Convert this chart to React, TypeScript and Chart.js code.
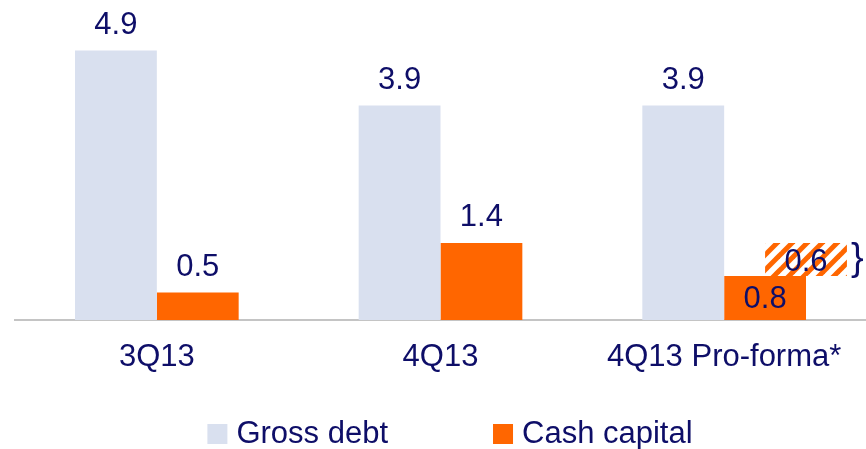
import React, { useEffect, useRef } from "react";
import { Chart, registerables } from "chart.js";

Chart.register(...registerables);

const categories = ["3Q13", "4Q13", "4Q13 Pro-forma*"];
const seriesNames = ["Gross debt", "Cash capital"];
const grossDebt = [4.9, 3.9, 3.9];
const cashCapital = [0.5, 1.4, 0.8];
const proFormaAddition: (number | null)[] = [null, null, 0.6];

const NAVY = "#0E0E68";
const GRAY_BAR = "#D9E0EF";
const ORANGE = "#FF6600";
const AXIS_GRAY = "#C4C4C4";
const FONT = "'Liberation Sans', Arial, sans-serif";
const FONT_SIZE = 31;

function makePattern(): CanvasPattern | string {
  const size = 15;
  const c = document.createElement("canvas");
  c.width = size;
  c.height = size;
  const g = c.getContext("2d");
  if (!g) return ORANGE;
  g.fillStyle = "#FFFFFF";
  g.fillRect(0, 0, size, size);
  g.strokeStyle = ORANGE;
  g.lineWidth = 5;
  const segs = [
    [-size, size, size, -size],
    [0, size, size, 0],
    [0, 2 * size, 2 * size, 0],
  ];
  segs.forEach(([x1, y1, x2, y2]) => {
    g.beginPath();
    g.moveTo(x1, y1);
    g.lineTo(x2, y2);
    g.stroke();
  });
  const p = g.createPattern(c, "repeat");
  return p || ORANGE;
}

export default function App() {
  const canvasRef = useRef<HTMLCanvasElement | null>(null);

  useEffect(() => {
    document.body.style.margin = "0";
    const canvas = canvasRef.current;
    if (!canvas) return;
    const pattern = makePattern();

    const overlay = {
      id: "overlay",
      afterDatasetsDraw(chart: any) {
        const ctx = chart.ctx as CanvasRenderingContext2D;
        const yScale = chart.scales.y;
        const grossMeta = chart.getDatasetMeta(0);
        const cashMeta = chart.getDatasetMeta(1);
        ctx.save();
        ctx.font = `${FONT_SIZE}px ${FONT}`;
        ctx.fillStyle = NAVY;
        ctx.textAlign = "center";
        ctx.textBaseline = "alphabetic";

        grossMeta.data.forEach((bar: any, i: number) => {
          ctx.fillStyle = NAVY;
          ctx.fillText(grossDebt[i].toFixed(1), bar.x, bar.y - 17);
        });

        cashMeta.data.forEach((bar: any, i: number) => {
          const add = proFormaAddition[i];
          ctx.fillStyle = NAVY;
          ctx.font = `${FONT_SIZE}px ${FONT}`;
          ctx.textAlign = "center";
          ctx.textBaseline = "alphabetic";
          if (add == null) {
            ctx.fillText(cashCapital[i].toFixed(1), bar.x, bar.y - 17);
          } else {
            ctx.fillText(cashCapital[i].toFixed(1), bar.x, bar.base - 12);
            const w = bar.width;
            const top = yScale.getPixelForValue(cashCapital[i] + add);
            const bottom = yScale.getPixelForValue(cashCapital[i]);
            const left = bar.x;
            ctx.fillStyle = pattern as any;
            ctx.fillRect(left, top, w, bottom - top);
            ctx.fillStyle = NAVY;
            ctx.fillText(add.toFixed(1), left + w / 2, (top + bottom) / 2 + 11);
            ctx.font = `38px ${FONT}`;
            ctx.textAlign = "left";
            ctx.textBaseline = "middle";
            ctx.fillText("}", left + w + 4, (top + bottom) / 2);
          }
        });
        ctx.restore();
      },
      afterDraw(chart: any) {
        const ctx = chart.ctx as CanvasRenderingContext2D;
        ctx.save();
        ctx.font = `${FONT_SIZE}px ${FONT}`;
        const box = 20;
        const gap = 9;
        const spacing = 105;
        const items = chart.data.datasets.map((d: any) => ({
          label: d.label,
          color: d.backgroundColor,
          w: box + gap + ctx.measureText(d.label).width,
        }));
        const total =
          items.reduce((s: number, it: any) => s + it.w, 0) + spacing * (items.length - 1);
        let x = 450 - total / 2;
        const baseline = 443;
        items.forEach((it: any) => {
          ctx.fillStyle = it.color;
          ctx.fillRect(x, baseline - 19, box, box);
          ctx.fillStyle = NAVY;
          ctx.textAlign = "left";
          ctx.textBaseline = "alphabetic";
          ctx.fillText(it.label, x + box + gap, baseline);
          x += it.w + spacing;
        });
        ctx.restore();
      },
    };

    const chart = new Chart(canvas, {
      type: "bar",
      data: {
        labels: categories,
        datasets: [
          {
            label: seriesNames[0],
            data: grossDebt,
            backgroundColor: GRAY_BAR,
            borderWidth: 0,
            barPercentage: 1,
            categoryPercentage: 0.577,
          },
          {
            label: seriesNames[1],
            data: cashCapital,
            backgroundColor: ORANGE,
            borderWidth: 0,
            barPercentage: 1,
            categoryPercentage: 0.577,
          },
        ],
      },
      options: {
        animation: false,
        responsive: false,
        devicePixelRatio: 1,
        layout: { padding: { left: 15, right: 0, top: 17.5, bottom: 53.8 } },
        plugins: {
          legend: { display: false },
          tooltip: { enabled: false },
        },
        scales: {
          x: {
            grid: { display: false, drawTicks: false },
            border: { display: true, color: AXIS_GRAY, width: 2 },
            ticks: {
              color: NAVY,
              font: { family: FONT, size: FONT_SIZE },
              padding: 19,
              maxRotation: 0,
              autoSkip: false,
            },
          },
          y: {
            display: false,
            min: 0,
            max: 5.5,
          },
        },
      },
      plugins: [overlay],
    });

    return () => chart.destroy();
  }, []);

  return (
    <div style={{ width: 866, height: 449 }}>
      <canvas ref={canvasRef} width={866} height={449} style={{ display: "block" }} />
    </div>
  );
}
